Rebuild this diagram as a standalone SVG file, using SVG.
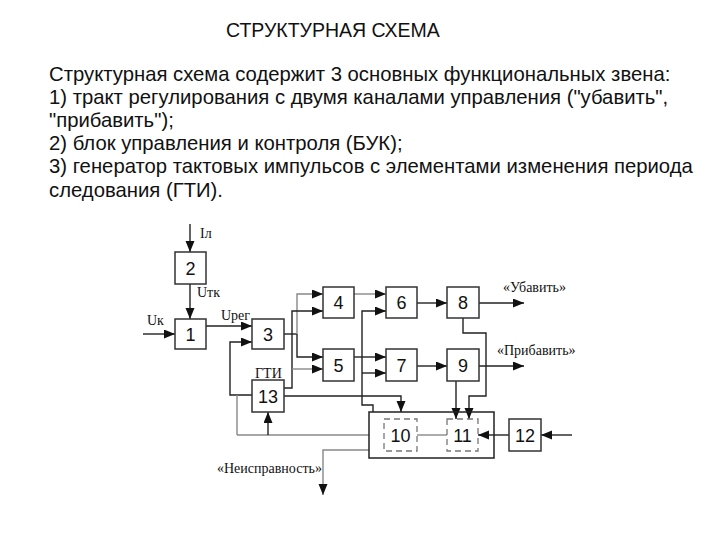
<svg xmlns="http://www.w3.org/2000/svg" width="720" height="540" viewBox="0 0 720 540">
<defs>
<marker id="ah" markerUnits="userSpaceOnUse" markerWidth="12" markerHeight="10" refX="11" refY="4.5" orient="auto">
<path d="M0,0 L11,4.5 L0,9 z" fill="#111"/>
</marker>
<style>
.t{font-family:"Liberation Sans",Arial,sans-serif;fill:#111}
.p{font-size:20.3px}
.s{font-family:"Liberation Serif","Times New Roman",serif;font-size:14px;fill:#111}
.b{fill:#fff;stroke:#333;stroke-width:1.5}
.d{fill:none;stroke:#777;stroke-width:1.3;stroke-dasharray:6,4}
.n{font-family:"Liberation Sans",Arial,sans-serif;font-size:18px;fill:#111;text-anchor:middle}
.w{fill:none;stroke:#222;stroke-width:1.4}
.g{fill:none;stroke:#888;stroke-width:1.4}
.a{marker-end:url(#ah)}
</style>
</defs>
<rect width="720" height="540" fill="#fff"/>
<text class="t" x="226" y="37" font-size="19.5">СТРУКТУРНАЯ СХЕМА</text>
<g id="description" class="t p">
<text x="49" y="81">Структурная схема содержит 3 основных функциональных звена:</text>
<text x="49" y="104">1) тракт регулирования с двумя каналами управления ("убавить",</text>
<text x="49" y="127">"прибавить");</text>
<text x="49" y="150">2) блок управления и контроля (БУК);</text>
<text x="49" y="173">3) генератор тактовых импульсов с элементами изменения периода</text>
<text x="49" y="197">следования (ГТИ).</text>
</g>
<g id="connectors">
<path class="w a" d="M190,224 V252"/>
<path class="w a" d="M190,284 V319"/>
<path class="w a" d="M143,334 H175"/>
<path class="w a" d="M206,326 H252"/>
<path class="w a" d="M252,395 H230 V342 H252"/>
<path class="g" d="M237,395 V435"/>
<path class="g" d="M237,435 H369"/>
<path class="w a" d="M268,435 V412"/>
<path class="w" d="M284,334 H297"/>
<path class="g a" d="M297,334 V294 H323"/>
<path class="w a" d="M297,334 V357 H323"/>
<path class="w a" d="M284,388 H292 V311 H323"/>
<path class="g a" d="M292,369 H323"/>
<path class="w a" d="M284,396 H401 V412"/>
<path class="g a" d="M354,294 H386"/>
<path class="w a" d="M373,412 V405 H362 V311 H386"/>
<path class="w a" d="M362,373 H386"/>
<path class="w a" d="M354,357 H386"/>
<path class="w a" d="M417,303 H447"/>
<path class="w a" d="M417,366 H447"/>
<path class="w a" d="M479,303 H524"/>
<path class="w a" d="M479,366 H524"/>
<path class="w a" d="M463,318 V333 H486 V396 H469 V419"/>
<path class="w a" d="M456,381 V419"/>
<path class="g" d="M417,435 H447"/>
<path class="w a" d="M509,435 H478"/>
<path class="w a" d="M572,435 H541"/>
<path class="g a" d="M369,450 H323 V495"/>
</g>
<g id="node-2"><rect class="b" x="175" y="252" width="31" height="32"/><text class="n" x="190.5" y="274.5">2</text></g>
<g id="node-1"><rect class="b" x="175" y="319" width="31" height="30"/><text class="n" x="190.5" y="340.5">1</text></g>
<g id="node-3"><rect class="b" x="252" y="319" width="32" height="30"/><text class="n" x="268" y="340.5">3</text></g>
<g id="node-4"><rect class="b" x="323" y="287" width="31" height="31"/><text class="n" x="338.5" y="309">4</text></g>
<g id="node-6"><rect class="b" x="386" y="287" width="31" height="31"/><text class="n" x="401.5" y="309">6</text></g>
<g id="node-8"><rect class="b" x="447" y="287" width="32" height="31"/><text class="n" x="463" y="309">8</text></g>
<g id="node-5"><rect class="b" x="323" y="349" width="31" height="32"/><text class="n" x="338.5" y="371.5">5</text></g>
<g id="node-7"><rect class="b" x="386" y="349" width="31" height="32"/><text class="n" x="401.5" y="371.5">7</text></g>
<g id="node-9"><rect class="b" x="447" y="349" width="32" height="32"/><text class="n" x="463" y="371.5">9</text></g>
<g id="node-13"><rect class="b" x="252" y="380" width="32" height="32"/><text class="n" x="268" y="402.5">13</text></g>
<g id="node-buk"><rect x="369" y="412" width="125" height="46" fill="none" stroke="#222" stroke-width="1.5"/></g>
<g id="node-10"><rect class="d" x="384" y="419" width="33" height="32"/><text class="n" x="400.5" y="441.5">10</text></g>
<g id="node-11"><rect class="d" x="447" y="419" width="31" height="32"/><text class="n" x="462.5" y="441.5">11</text></g>
<g id="node-12"><rect class="b" x="509" y="419" width="32" height="32"/><text class="n" x="525" y="441.5">12</text></g>
<g id="labels">
<text class="s" x="200" y="238">Iл</text>
<text class="s" x="197" y="297">Uтк</text>
<text class="s" x="147" y="325">Uк</text>
<text class="s" x="221" y="320">Uрег</text>
<text class="s" x="255" y="378">ГТИ</text>
<text class="s" x="503" y="292">«Убавить»</text>
<text class="s" x="497" y="355">«Прибавить»</text>
<text class="s" x="217" y="473">«Неисправность»</text>
</g>
</svg>
